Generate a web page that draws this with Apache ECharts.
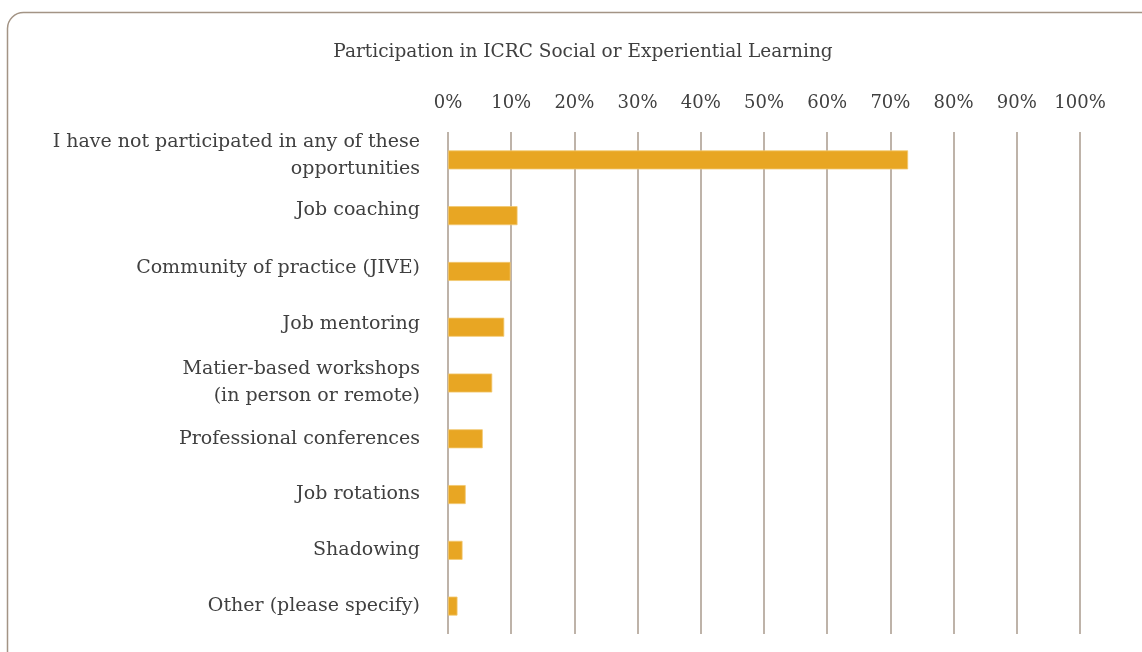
<!DOCTYPE html>
<html>
<head>
<meta charset="utf-8">
<script src="https://cdn.jsdelivr.net/npm/echarts@6/dist/echarts.min.js"></script>
<style>
html,body{margin:0;padding:0;background:#fff;}
#chart{width:1142px;height:652px;}
</style>
</head>
<body>
<div id="chart"></div>
<script>
const titleText = 'Participation in ICRC Social or Experiential Learning';
const categories = [
  'I have not participated in any of these\nopportunities',
  'Job coaching',
  'Community of practice (JIVE)',
  'Job mentoring',
  'Matier-based workshops\n(in person or remote)',
  'Professional conferences',
  'Job rotations',
  'Shadowing',
  'Other (please specify)'
];
const values = [72.8, 11.0, 9.9, 8.9, 7.0, 5.5, 2.8, 2.3, 1.5];
const tickMin = 0, tickMax = 100, tickStep = 10;

// label layout tweak: spacer line heights to nudge some labels upward
const labelSpacer = [8, 12, 6, 6, 0, 0, 0, 0, 0];

const chart = echarts.init(document.getElementById('chart'));
const font = '"DejaVu Serif", "Liberation Serif", serif';
const rich = {};
labelSpacer.forEach((h, i) => { if (h) rich['s' + i] = { lineHeight: h, fontSize: 1 }; });
chart.setOption({
  animation: false,
  backgroundColor: '#fff',
  graphic: [{
    type: 'rect',
    shape: { x: 7.5, y: 12.5, width: 1160, height: 680, r: 16 },
    style: { fill: 'none', stroke: '#a39485', lineWidth: 1.5 },
    silent: true
  }],
  title: {
    text: titleText,
    left: 578, top: 38, textAlign: 'center',
    textStyle: { fontFamily: font, fontSize: 18.5, fontWeight: 'normal', color: '#404040' }
  },
  grid: { left: 448, right: 62, top: 132, bottom: 18, containLabel: false },
  xAxis: {
    type: 'value', position: 'top',
    min: tickMin, max: tickMax, interval: tickStep,
    axisLine: { show: false }, axisTick: { show: false },
    axisLabel: { formatter: '{value}%', fontFamily: font, fontSize: 18, color: '#404040', margin: 20 },
    splitLine: { show: true, lineStyle: { color: '#a89a8c', width: 1.5 } }
  },
  yAxis: {
    type: 'category', data: categories, inverse: true,
    axisLine: { show: false }, axisTick: { show: false },
    axisLabel: {
      fontFamily: font, fontSize: 19, color: '#404040', margin: 28, lineHeight: 27, align: 'right',
      formatter: (v, i) => labelSpacer[i] ? v + '\n{s' + i + '| }' : v,
      rich: rich
    }
  },
  series: [{
    type: 'bar', data: values, barWidth: 19,
    itemStyle: { color: '#e8a623', borderColor: '#f3c870', borderWidth: 0.8 }
  }]
});
</script>
</body>
</html>
